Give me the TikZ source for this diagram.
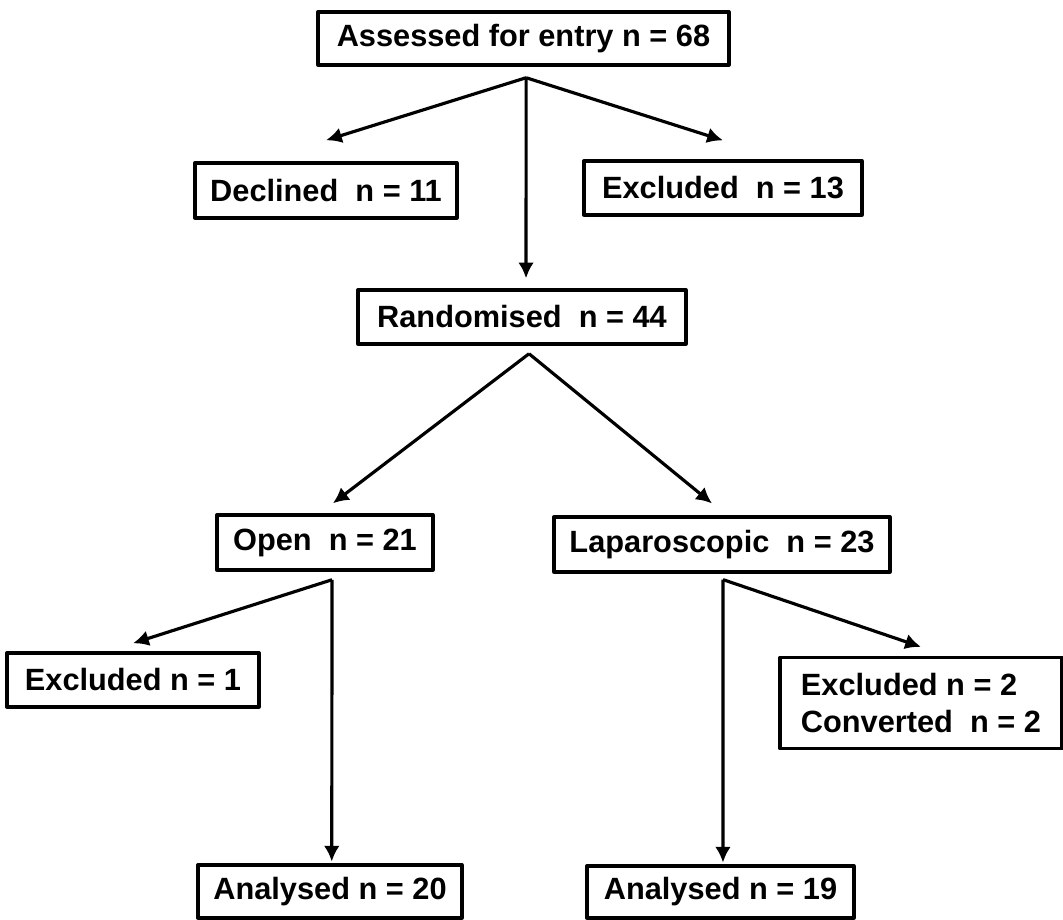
\documentclass[tikz,border=0pt]{standalone}
\usepackage{fontspec}
\setmainfont{Liberation Sans}
\usetikzlibrary{arrows.meta}
\begin{document}
\begin{tikzpicture}[x=0.02cm,y=-0.02cm,line join=round,>={Latex[length=9pt,width=9pt]},font=\fontsize{17.5}{21.5}\selectfont\bfseries]
		\tikzset{box/.style={draw,line width=1.9pt,inner sep=0pt,align=left,minimum height=1.08cm},
			arr/.style={->,line width=1.8pt}}
		\useasboundingbox (0,0) rectangle (1063,920);
		\node[box,minimum width=8.22cm,minimum height=1.06cm] (assessed) at (523.5,38.5) {Assessed for entry n = 68};
		\node[box,minimum width=5.24cm,minimum height=1.1cm] (declined) at (326,190.5) {Declined\ \ n = 11};
		\node[box,minimum width=5.56cm] (excluded) at (723,188) {Excluded\ \ n = 13};
		\node[box,minimum width=6.56cm] (randomised) at (522,317) {Randomised\ \ n = 44};
		\node[box,minimum width=4.32cm,minimum height=1.1cm] (open) at (325,542.5) {Open\ \ n = 21};
		\node[box,minimum width=6.72cm,minimum height=1.1cm] (lap) at (722,544.5) {Laparoscopic\ \ n = 23};
		\node[box,minimum width=5.04cm] (exclone) at (133,680) {Excluded n = 1};
		\node[box,minimum width=5.64cm,minimum height=1.82cm] (exclconv) at (921,703) {Excluded n = 2\\Converted\ \ n = 2};
		\node[box,minimum width=5.28cm,minimum height=1.06cm] (anltwenty) at (330,891.5) {Analysed n = 20};
		\node[box,minimum width=5.34cm,minimum height=1.04cm] (anlnineteen) at (720.5,892) {Analysed n = 19};
		\draw[arr] ([xshift=1.5pt,yshift=-6.3pt]assessed.south) -- ([yshift=12pt]declined.north);
		\draw[arr] ([xshift=1.5pt,yshift=-6.3pt]assessed.south) -- ([yshift=10.8pt]excluded.north);
		\draw[arr] ([xshift=1.5pt,yshift=-6.3pt]assessed.south) -- ([xshift=2.3pt,yshift=5.7pt]randomised.north);
		\draw[arr] ([xshift=4pt,yshift=-4.6pt]randomised.south) -- ([xshift=4.5pt,yshift=5.7pt]open.north);
		\draw[arr] ([xshift=4pt,yshift=-4.6pt]randomised.south) -- ([xshift=-5.7pt,yshift=6.8pt]lap.north);
		\draw[arr] ([xshift=4pt,yshift=-4.6pt]open.south) -- ([yshift=4.6pt]exclone.north);
		\draw[arr] ([xshift=4pt,yshift=-4.6pt]open.south) -- ([xshift=1pt,yshift=1pt]anltwenty.north);
		\draw[arr] ([xshift=0.6pt,yshift=-3.4pt]lap.south) -- ([yshift=5.1pt]exclconv.north);
		\draw[arr] ([xshift=0.6pt,yshift=-3.4pt]lap.south) -- ([xshift=1.4pt,yshift=1pt]anlnineteen.north);
	\end{tikzpicture}
\end{document}
